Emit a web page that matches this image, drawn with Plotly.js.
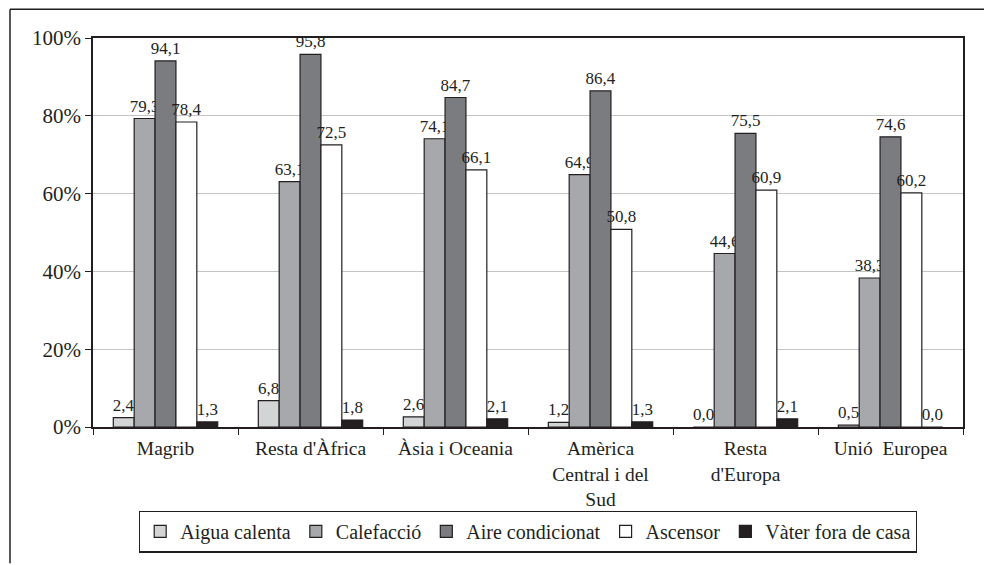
<!DOCTYPE html>
<html><head><meta charset="utf-8">
<script src="https://cdn.plot.ly/plotly-3.0.1.min.js"></script>
<style>html,body{margin:0;padding:0;background:#fff}</style>
</head><body><div id="c"></div>
<script>
const categories = ["Magrib", "Resta d'Àfrica", "Àsia i Oceania", "Amèrica<br>Central i del<br>Sud", "Resta<br>d'Europa", "Unió\u00a0\u00a0Europea"];
const seriesNames = ["Aigua calenta", "Calefacció", "Aire condicionat", "Ascensor", "Vàter fora de casa"];
const aiguaCalenta = [2.4, 6.8, 2.6, 1.2, 0.0, 0.5];
const calefaccio = [79.3, 63.1, 74.1, 64.9, 44.6, 38.3];
const aireCondicionat = [94.1, 95.8, 84.7, 86.4, 75.5, 74.6];
const ascensor = [78.4, 72.5, 66.1, 50.8, 60.9, 60.2];
const vaterFora = [1.3, 1.8, 2.1, 1.3, 2.1, 0.0];
const yTicks = [0, 20, 40, 60, 80, 100];

const seriesValues = [aiguaCalenta, calefaccio, aireCondicionat, ascensor, vaterFora];
const colors = ["#d3d4d6", "#a7a8ab", "#7b7c80", "#ffffff", "#231f20"];
const fontFam = "Liberation Serif";
const ink = "#231f20";

const traces = seriesValues.map((vals, i) => ({
  type: "bar",
  name: seriesNames[i],
  x: categories,
  y: vals,
  text: vals.map(v => v.toFixed(1).replace(".", ",")),
  textposition: "outside",
  constraintext: "none",
  cliponaxis: false,
  textfont: {family: fontFam, size: 17, color: ink},
  marker: {color: colors[i], line: {color: ink, width: 1.2}},
  hoverinfo: "none"
}));

const layout = {
  width: 984, height: 565,
  margin: {l: 93, r: 21, t: 38, b: 133},
  paper_bgcolor: "#fff", plot_bgcolor: "#fff",
  font: {family: fontFam, size: 20, color: ink},
  barmode: "group",
  bargap: 0.28,
  bargroupgap: 0,
  showlegend: true,
  legend: {
    orientation: "h", x: 0.5, xanchor: "center", y: -0.215, yanchor: "top",
    bordercolor: ink, borderwidth: 1.2,
    font: {family: fontFam, size: 20, color: ink},
    itemwidth: 30, tracegroupgap: 0,
    traceorder: "normal"
  },
  xaxis: {
    type: "category",
    showline: true, linecolor: ink, linewidth: 1.5, mirror: true,
    ticks: "outside", tickson: "boundaries", ticklen: 6, tickcolor: ink,
    ticklabelstandoff: 3,
    tickfont: {family: fontFam, size: 19.5, color: ink},
    showgrid: false, fixedrange: true
  },
  yaxis: {
    range: [0, 100], tickvals: yTicks, ticktext: yTicks.map(v => v + "%"),
    showline: true, linecolor: ink, linewidth: 1.5, mirror: true,
    ticks: "outside", ticklen: 6, tickcolor: ink,
    showgrid: true, gridcolor: "#c4c4c4", gridwidth: 1,
    zeroline: false,
    tickfont: {family: fontFam, size: 21, color: ink},
    fixedrange: true
  },
  shapes: [
    {type: "line", xref: "paper", yref: "paper", x0: -0.0954, x1: 1.03, y0: 1.0736, y1: 1.0736, line: {color: ink, width: 1.5}},
    {type: "line", xref: "paper", yref: "paper", x0: -0.0954, x1: -0.0954, y0: 1.0736, y1: -0.35, line: {color: ink, width: 1.5}}
  ]
};

Plotly.newPlot("c", traces, layout, {displayModeBar: false});
</script></body></html>
